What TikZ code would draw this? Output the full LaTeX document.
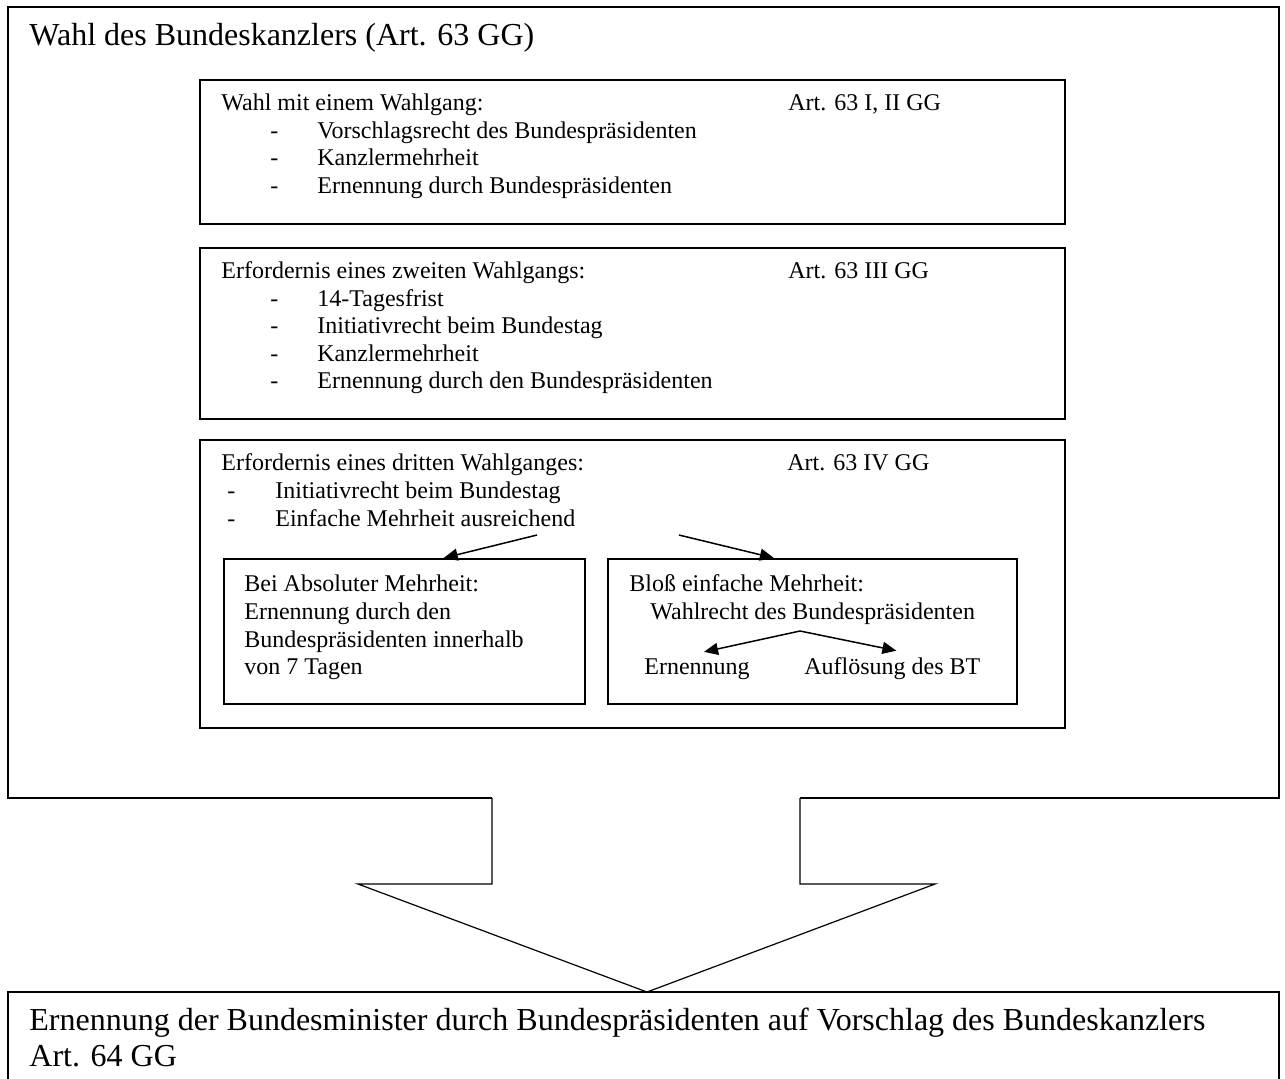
\documentclass[tikz,border=0pt]{standalone}
\usepackage{fontspec}
\setmainfont{Liberation Serif}
\usetikzlibrary{arrows.meta,calc}
\newlength\px
\setlength\px{0.5pt}
\tikzset{
  frame/.style={
    draw,
    line width=1pt,
    inner sep=0pt,
    anchor=north west
  },
  txt/.style={
    inner sep=0pt,
    anchor=base west,
    font=\fontsize{12}{13.8}\selectfont
  },
  bigtxt/.style={
    inner sep=0pt,
    anchor=base west,
    font=\fontsize{16}{18.4}\selectfont
  },
  pointer/.style={
    line width=0.75pt,
    -{Triangle[length=7pt,width=6pt]}
  },
  every picture/.style={
    x=0.5pt,
    y=-0.5pt
  }
}

\begin{document}
\begin{tikzpicture}
        \useasboundingbox (0,0) rectangle (1285,1078);
        % outer frame, open where the big arrow leaves it
        \draw[line width=1pt] (492,798) -- (8,798) -- (8,7) -- (1279,7) -- (1279,798) -- (800,798);
        \node[bigtxt] (titel) at (29,45) {Wahl des Bundeskanzlers (Art. 63 GG)};

        % first ballot
        \node[frame,minimum width=865\px,minimum height=144\px] (wahl1) at (199,79) {};
        \node[txt] (kopf1) at (221,110) {Wahl mit einem Wahlgang:};
        \node[txt] (art1) at (788,110) {Art. 63 I, II GG};
        \foreach \y/\t in {138/Vorschlagsrecht des Bundespräsidenten,165/Kanzlermehrheit,193/Ernennung durch Bundespräsidenten}{
                \node[txt] (strich1\y) at (270,\y) {-};
                \node[txt] (punkt1\y) at (317,\y) {\t};
            }

        % second ballot
        \node[frame,minimum width=865\px,minimum height=171\px] (wahl2) at (199,247) {};
        \node[txt] (kopf2) at (221,278) {Erfordernis eines zweiten Wahlgangs:};
        \node[txt] (art2) at (788,278) {Art. 63 III GG};
        \foreach \y/\t in {306/14-Tagesfrist,333/Initiativrecht beim Bundestag,361/Kanzlermehrheit,388/Ernennung durch den Bundespräsidenten}{
                \node[txt] (strich2\y) at (270,\y) {-};
                \node[txt] (punkt2\y) at (317,\y) {\t};
            }

        % third ballot
        \node[frame,minimum width=865\px,minimum height=288\px] (wahl3) at (199,439) {};
        \node[txt] (kopf3) at (221,470) {Erfordernis eines dritten Wahlganges:};
        \node[txt] (art3) at (787,470) {Art. 63 IV GG};
        \foreach \y/\t in {498/Initiativrecht beim Bundestag,526/Einfache Mehrheit ausreichend}{
                \node[txt] (strich3\y) at (227,\y) {-};
                \node[txt] (punkt3\y) at (275,\y) {\t};
            }

        \node[frame,minimum width=361\px,minimum height=145\px] (absolut) at (223,558) {};
        \foreach \y/\t in {591/Bei Absoluter Mehrheit:,619/Ernennung durch den,647/Bundespräsidenten innerhalb,674/von 7 Tagen}{
                \node[txt] (abs\y) at (244,\y) {\t};
            }

        \node[frame,minimum width=409\px,minimum height=145\px] (einfach) at (607,558) {};
        \node[txt] (bloss) at (629,591) {Bloß einfache Mehrheit:};
        \node[txt] (wahlrecht) at (650,619) {Wahlrecht des Bundespräsidenten};
        \node[txt] (ernennung) at (644,674) {Ernennung};
        \node[txt] (aufloesung) at (804,674) {Auflösung des BT};

        \coordinate (links) at (537,535);
        \coordinate (rechts) at (679,535);
        \coordinate (gabel) at (800,631);
        \draw[pointer] (links) -- ($(absolut.north west)!0.608!(absolut.north east)$);
        \draw[pointer] (rechts) -- ($(einfach.north west)!0.406!(einfach.north east)$);
        \draw[pointer] (gabel) -- ($(ernennung.north)+(7,-6)$);
        \draw[pointer] (gabel) -- ($(aufloesung.north)+(4,-6)$);

        % big arrow down
        \draw[line width=0.6pt] (492,798) -- (492,884) -- (358,884) -- (647,992) -- (935,884) -- (800,884) -- (800,798);

        % ministers
        \draw[line width=1pt] (8,1090) -- (8,992) -- (1279,992) -- (1279,1090);
        \node[bigtxt] (minister) at (29,1030) {Ernennung der Bundesminister durch Bundespräsidenten auf Vorschlag des Bundeskanzlers};
        \node[bigtxt] (art4) at (29,1066) {Art. 64 GG};
    \end{tikzpicture}
\end{document}
